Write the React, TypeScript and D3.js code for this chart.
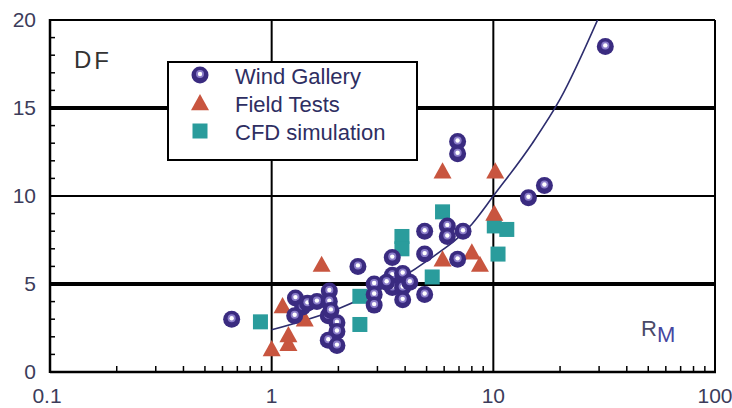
import React from "react";
import * as d3 from "d3";

// R_M / D_F readings
const windGallery: [number, number][] = [
  [0.66, 3.0], [1.28, 4.2], [1.38, 3.7], [1.27, 3.2], [1.45, 3.9], [1.6, 4.0],
  [1.82, 4.6], [1.82, 4.0], [1.8, 3.2], [1.97, 2.8], [1.97, 2.3], [1.8, 1.8],
  [1.97, 1.5], [1.85, 3.5], [2.45, 6.0], [2.9, 5.0], [2.9, 4.4], [2.9, 3.8],
  [3.5, 6.5], [3.5, 5.5], [3.5, 4.8], [3.9, 5.6], [3.9, 4.8], [3.9, 4.1],
  [3.3, 5.1], [4.2, 5.1], [4.9, 8.0], [4.9, 6.7], [4.9, 4.4], [6.2, 8.3],
  [6.2, 7.7], [6.9, 6.4], [7.3, 8.0], [6.9, 13.1], [6.9, 12.4], [14.4, 9.9],
  [17, 10.6], [32, 18.5]
];
const fieldTests: [number, number][] = [
  [1.0, 1.3], [1.19, 1.6], [1.19, 2.1], [1.12, 3.75], [1.41, 3.0], [1.68, 6.1],
  [5.9, 11.4], [10.2, 11.4], [10.1, 9.0], [8.0, 6.8], [8.7, 6.1], [5.9, 6.4]
];
const cfd: [number, number][] = [
  [0.89, 2.85], [2.5, 4.3], [2.5, 2.7], [3.87, 7.7], [3.87, 7.0], [5.9, 9.1],
  [5.3, 5.4], [10.1, 8.3], [11.5, 8.1], [10.5, 6.7]
];
const trendCurve: [number, number][] = [
  [1, 2.4], [2, 3.6], [3, 4.6], [5, 6.3], [8, 8.4], [10, 10], [15, 13], [20, 15.5], [30, 20.2]
];

const xTicks = [0.1, 1, 10, 100];
const xTickLabels = ["0.1", "1", "10", "100"];
const yTicks = [0, 5, 10, 15, 20];
const legendItems = ["Wind Gallery", "Field Tests", "CFD simulation"];

const W = 732, H = 408;
const left = 50, right = 715, top = 20, bottom = 372;

const font = "Liberation Sans, Arial, sans-serif";
const purple = "#3a2b80";
const red = "#c8553f";
const teal = "#2a9c9c";
const ink = "#3c3c5a";

function Ball({ x, y }: { x: number; y: number }) {
  return (
    <g>
      <circle cx={x} cy={y} r={8.5} fill={purple} />
      <circle cx={x} cy={y - 1} r={4} fill="#8a7cc8" />
      <circle cx={x} cy={y - 1} r={2.2} fill="#fff" />
    </g>
  );
}
function Tri({ x, y }: { x: number; y: number }) {
  const s = 9;
  return <path d={`M${x},${y - s} L${x + s},${y + s * 0.8} L${x - s},${y + s * 0.8} Z`} fill={red} />;
}
function Sq({ x, y }: { x: number; y: number }) {
  return <rect x={x - 7.5} y={y - 7.5} width={15} height={15} fill={teal} />;
}

export default function App() {
  const x = d3.scaleLog().domain([0.1, 100]).range([left, right]);
  const y = d3.scaleLinear().domain([0, 20]).range([bottom, top]);

  const minorX: number[] = [];
  [0.1, 1, 10].forEach((d) => {
    for (let k = 2; k <= 9; k++) minorX.push(d * k);
  });
  const minorY = d3.range(0, 21).filter((v) => v % 5 !== 0);

  const line = d3
    .line<[number, number]>()
    .x((d) => x(d[0]))
    .y((d) => y(d[1]))
    .curve(d3.curveMonotoneX);

  const legendX = 168, legendY = 62;

  return (
    <svg width={W} height={H} style={{ position: "absolute", left: 0, top: 0, background: "#fff" }}>
      <defs>
        <clipPath id="plot">
          <rect x={left} y={top} width={right - left} height={bottom - top} />
        </clipPath>
      </defs>

      {/* horizontal grid */}
      {yTicks.slice(1).map((t) => (
        <line
          key={"h" + t}
          x1={left}
          x2={right}
          y1={y(t)}
          y2={y(t)}
          stroke="#000"
          strokeWidth={t === 5 || t === 15 ? 4 : 2}
        />
      ))}
      {/* vertical grid */}
      {[1, 10].map((t) => (
        <line key={"v" + t} x1={x(t)} x2={x(t)} y1={top} y2={bottom} stroke="#000" strokeWidth={2} />
      ))}
      <line x1={right} x2={right} y1={top} y2={bottom} stroke="#000" strokeWidth={2} />
      <line x1={left} x2={left} y1={top - 1} y2={bottom + 1} stroke="#000" strokeWidth={2.5} />
      <line x1={left} x2={right + 1} y1={bottom} y2={bottom} stroke="#000" strokeWidth={2.5} />

      {minorX.map((t) => (
        <line key={"mx" + t} x1={x(t)} x2={x(t)} y1={bottom} y2={bottom - 6} stroke="#000" strokeWidth={1.5} />
      ))}
      {minorY.map((t) => (
        <line key={"my" + t} x1={left} x2={left + 5} y1={y(t)} y2={y(t)} stroke="#000" strokeWidth={1.5} />
      ))}

      {yTicks.map((t) => (
        <text key={"yl" + t} x={36} y={y(t)} dy="0.35em" textAnchor="end" fontFamily={font} fontSize={21} fill={ink}>
          {t}
        </text>
      ))}
      {xTicks.map((t, i) => (
        <text key={"xl" + t} x={x(t) - (i === 0 ? 3 : 0)} y={396} dy="0.35em" textAnchor="middle" fontFamily={font} fontSize={21} fill={ink}>
          {xTickLabels[i]}
        </text>
      ))}

      <text x={74} y={68} fontFamily={font} fontSize={24} fill="#333">
        D<tspan dx={3} dy={1}>F</tspan>
      </text>
      <text x={641} y={336} fontFamily={font} fontSize={22} fill="#4a4a68">
        R<tspan dy={6} fill="#4646a0">M</tspan>
      </text>

      <path d={line(trendCurve) || ""} fill="none" stroke="#2d2d6e" strokeWidth={1.6} clipPath="url(#plot)" />

      {cfd.map((d, i) => (
        <Sq key={"c" + i} x={x(d[0])} y={y(d[1])} />
      ))}
      {fieldTests.map((d, i) => (
        <Tri key={"f" + i} x={x(d[0])} y={y(d[1])} />
      ))}
      {windGallery.map((d, i) => (
        <Ball key={"w" + i} x={x(d[0])} y={y(d[1])} />
      ))}

      {/* legend */}
      <rect x={legendX} y={legendY} width={249} height={98} fill="#fff" stroke="#000" strokeWidth={2} />
      <g>
        <Ball x={200} y={75} />
        <Tri x={200} y={103} />
        <Sq x={200} y={131} />
      </g>
      {legendItems.map((t, i) => (
        <text key={t} x={235} y={76 + i * 28} dy="0.35em" fontFamily={font} fontSize={22} fill="#2e2e62">
          {t}
        </text>
      ))}
    </svg>
  );
}
